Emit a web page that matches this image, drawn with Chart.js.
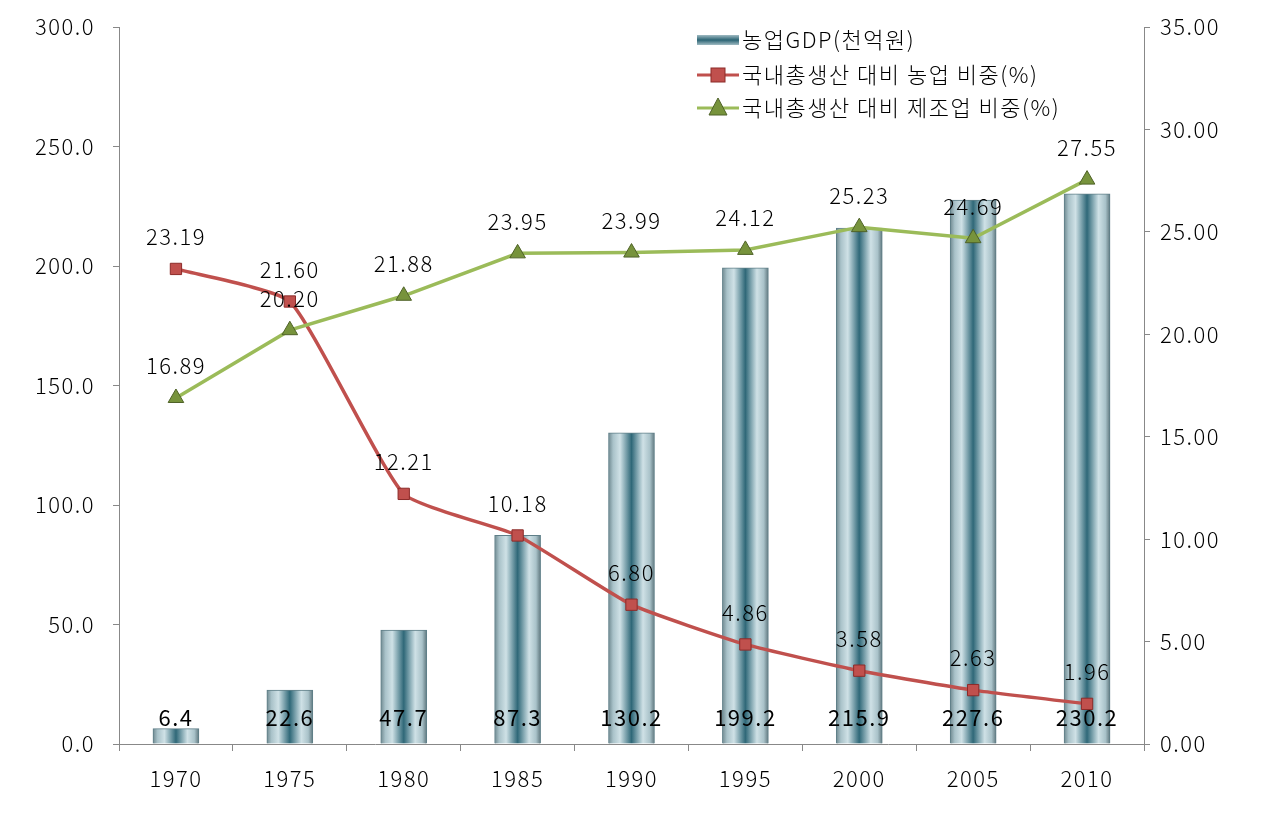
<!DOCTYPE html>
<html>
<head>
<meta charset="utf-8">
<script src="https://cdn.jsdelivr.net/npm/chart.js@4"></script>
<style>
  body { margin: 0; background: #fff; }
  #wrap { width: 1266px; height: 820px; }
</style>
</head>
<body>
<div id="wrap"><canvas id="chart" width="1266" height="820"></canvas></div>
<script>
const years = ['1970', '1975', '1980', '1985', '1990', '1995', '2000', '2005', '2010'];
const agriGdp = [6.4, 22.6, 47.7, 87.3, 130.2, 199.2, 215.9, 227.6, 230.2];
const agriShare = [23.19, 21.60, 12.21, 10.18, 6.80, 4.86, 3.58, 2.63, 1.96];
const manuShare = [16.89, 20.20, 21.88, 23.95, 23.99, 24.12, 25.23, 24.69, 27.55];
const seriesNames = ['농업GDP(천억원)', '국내총생산 대비 농업 비중(%)', '국내총생산 대비 제조업 비중(%)'];

const FONT = "'Noto Sans CJK KR', 'Noto Sans', sans-serif";
const tickFont = { family: FONT, size: 22, weight: '300' };

// horizontal metallic gradient for each bar
function barGradient(ctx) {
  const chart = ctx.chart;
  if (!chart.chartArea || ctx.dataIndex === undefined) return '#3a6f7e';
  const x = chart.scales.x.getPixelForValue(ctx.dataIndex);
  const w = 46;
  const g = chart.ctx.createLinearGradient(x - w / 2, 0, x + w / 2, 0);
  g.addColorStop(0, '#6f8990');
  g.addColorStop(0.1, '#a9c2c9');
  g.addColorStop(0.25, '#cfe1e6');
  g.addColorStop(0.5, '#2f6878');
  g.addColorStop(0.75, '#cfe1e6');
  g.addColorStop(0.9, '#a9c2c9');
  g.addColorStop(1, '#5f777e');
  return g;
}

// wider letter spacing, closer to the original Gulim look
const spacing = {
  id: 'spacing',
  beforeDraw(chart) { chart.ctx.letterSpacing = '1.5px'; }
};

const valueLabels = {
  id: 'valueLabels',
  afterDatasetsDraw(chart) {
    const ctx = chart.ctx;
    ctx.save();
    ctx.fillStyle = '#000';
    ctx.textAlign = 'center';
    ctx.textBaseline = 'middle';
    ctx.font = "400 22px " + FONT;
    chart.getDatasetMeta(0).data.forEach((el, i) => {
      ctx.fillText(agriGdp[i].toFixed(1), el.x, chart.chartArea.bottom - 26);
    });
    ctx.font = "300 22px " + FONT;
    [1, 2].forEach(d => {
      const vals = chart.data.datasets[d].data;
      chart.getDatasetMeta(d).data.forEach((el, i) => {
        ctx.fillText(vals[i].toFixed(2), el.x, el.y - 32);
      });
    });
    ctx.restore();
  }
};

const legendBox = {
  id: 'legendBox',
  afterDraw(chart) {
    const ctx = chart.ctx;
    ctx.save();
    const x0 = 697, rows = [40, 75, 108];
    // bar icon
    const g = ctx.createLinearGradient(0, rows[0] - 6, 0, rows[0] + 6);
    g.addColorStop(0, '#b7ccd2');
    g.addColorStop(0.5, '#2b6474');
    g.addColorStop(1, '#b7ccd2');
    ctx.fillStyle = g;
    ctx.fillRect(x0, rows[0] - 5, 42, 10);
    // red line icon
    ctx.lineWidth = 3;
    ctx.strokeStyle = '#c0504d';
    ctx.beginPath(); ctx.moveTo(x0, rows[1]); ctx.lineTo(x0 + 42, rows[1]); ctx.stroke();
    ctx.fillStyle = '#c0504d';
    ctx.strokeStyle = '#8c2b29';
    ctx.lineWidth = 1;
    ctx.fillRect(x0 + 14, rows[1] - 7, 14, 14);
    ctx.strokeRect(x0 + 14, rows[1] - 7, 14, 14);
    // green line icon
    ctx.lineWidth = 3;
    ctx.strokeStyle = '#9bbb59';
    ctx.beginPath(); ctx.moveTo(x0, rows[2]); ctx.lineTo(x0 + 42, rows[2]); ctx.stroke();
    ctx.fillStyle = '#77933c';
    ctx.strokeStyle = '#4f6228';
    ctx.lineWidth = 1;
    ctx.beginPath();
    ctx.moveTo(x0 + 21, rows[2] - 10);
    ctx.lineTo(x0 + 30, rows[2] + 7);
    ctx.lineTo(x0 + 12, rows[2] + 7);
    ctx.closePath(); ctx.fill(); ctx.stroke();
    ctx.font = "300 22px " + FONT;
    ctx.fillStyle = '#000';
    ctx.textBaseline = 'middle';
    seriesNames.forEach((t, i) => ctx.fillText(t, x0 + 45, rows[i]));
    ctx.restore();
  }
};

new Chart(document.getElementById('chart'), {
  type: 'bar',
  data: {
    labels: years,
    datasets: [
      {
        label: seriesNames[0],
        data: agriGdp,
        yAxisID: 'y',
        backgroundColor: barGradient,
        borderColor: '#5f7f88',
        borderWidth: 1,
        barThickness: 46,
        order: 3
      },
      {
        type: 'line',
        label: seriesNames[1],
        data: agriShare,
        yAxisID: 'y1',
        borderColor: '#c0504d',
        borderWidth: 3.5,
        tension: 0.15,
        pointStyle: 'rect',
        pointRadius: 8,
        pointBackgroundColor: '#c0504d',
        pointBorderColor: '#8c2b29',
        pointBorderWidth: 1,
        order: 2
      },
      {
        type: 'line',
        label: seriesNames[2],
        data: manuShare,
        yAxisID: 'y1',
        borderColor: '#9bbb59',
        borderWidth: 3.5,
        tension: 0,
        pointStyle: 'triangle',
        pointRadius: 9,
        pointBackgroundColor: '#77933c',
        pointBorderColor: '#4f6228',
        pointBorderWidth: 1,
        order: 1
      }
    ]
  },
  options: {
    responsive: false,
    animation: false,
    layout: { padding: { top: 27, left: 0, right: 0, bottom: 0 } },
    plugins: {
      legend: { display: false },
      tooltip: { enabled: false }
    },
    scales: {
      x: {
        grid: { offset: true, drawOnChartArea: false, tickLength: 7, color: '#888' },
        border: { color: '#888', width: 1 },
        ticks: { font: tickFont, color: '#000', padding: 14 },
        afterFit: s => { s.height = 76; s.paddingLeft = 0; s.paddingRight = 0; }
      },
      y: {
        position: 'left',
        min: 0, max: 300,
        ticks: { stepSize: 50, font: tickFont, color: '#000', padding: 18, callback: v => v.toFixed(1) },
        grid: { drawOnChartArea: false, tickLength: 6, color: '#888' },
        border: { color: '#888', width: 1 },
        afterFit: s => { s.width = 119; s.paddingTop = 0; s.paddingBottom = 0; }
      },
      y1: {
        position: 'right',
        min: 0, max: 35,
        ticks: { stepSize: 5, font: tickFont, color: '#000', padding: 10, callback: v => v.toFixed(2) },
        grid: { drawOnChartArea: false, tickLength: 6, color: '#888' },
        border: { color: '#888', width: 1 },
        afterFit: s => { s.width = 122; s.paddingTop = 0; s.paddingBottom = 0; }
      }
    }
  },
  plugins: [spacing, valueLabels, legendBox]
});
</script>
</body>
</html>
